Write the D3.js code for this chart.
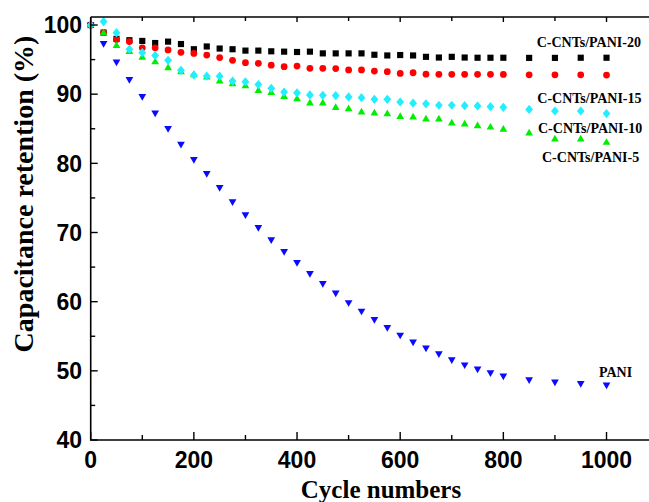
<!DOCTYPE html>
<html>
<head>
<meta charset="utf-8">
<script src="https://cdn.jsdelivr.net/npm/d3@7"></script>
<style>
  body { margin: 0; background: #fff; }
  svg { display: block; }
  .tick-label { font-family: "Liberation Sans", Arial, sans-serif; font-weight: bold; font-size: 23px; fill: #000; }
  .title { font-family: "Liberation Serif", "Times New Roman", serif; font-weight: bold; fill: #000; }
  .note { font-family: "Liberation Serif", "Times New Roman", serif; font-weight: bold; font-size: 14px; fill: #000; }
</style>
</head>
<body>
<svg width="649" height="502"></svg>
<script>
// cycle numbers where a point was recorded
const cycles = [0, 25, 50, 75, 100, 125, 150, 175, 200, 225, 250, 275, 300, 325, 350, 375, 400,
  425, 450, 475, 500, 525, 550, 575, 600, 625, 650, 675, 700, 725, 750, 775, 800, 850, 900, 950, 1000];

// capacitance retention (%) per sample
const pani20 = [100, 98.9, 98.0, 97.8, 97.7, 97.4, 97.6, 97.25, 96.5, 96.9, 96.6, 96.5, 96.3, 96.3, 96.2, 96.15, 96.1,
  96.15, 95.9, 95.9, 95.9, 95.9, 95.7, 95.6, 95.66, 95.6, 95.4, 95.3, 95.4, 95.3, 95.27, 95.27, 95.27, 95.25, 95.25, 95.27, 95.27];
const pani15red = [100, 98.9, 97.9, 97.6, 96.7, 96.7, 96.4, 96.05, 95.9, 95.66, 95.3, 94.9, 94.55, 94.46, 94.2, 93.98, 94.07,
  93.74, 93.74, 93.7, 93.5, 93.5, 93.35, 93.25, 93.0, 93.1, 92.9, 92.87, 92.87, 92.87, 92.87, 92.87, 92.85, 92.8, 92.8, 92.8, 92.77];
const pani15 = [100, 100.5, 98.9, 96.5, 96.0, 95.6, 94.9, 93.45, 92.77, 92.6, 92.6, 91.9, 91.8, 91.4, 90.85, 90.3, 90.2,
  89.9, 89.84, 89.8, 89.6, 89.5, 89.26, 89.26, 88.87, 88.7, 88.6, 88.4, 88.4, 88.34, 88.3, 88.2, 88.1, 87.8, 87.57, 87.57, 87.2];
const pani10 = [100, 98.8, 97.0, 96.15, 95.3, 94.65, 93.8, 93.2, 92.77, 92.44, 91.86, 91.47, 91.18, 90.5, 90.2, 89.64, 89.3,
  88.7, 88.7, 88.05, 87.86, 87.4, 87.24, 87.14, 86.75, 86.66, 86.37, 86.37, 85.8, 85.65, 85.4, 85.2, 84.9, 84.35, 83.5, 83.5, 83.0];
const pani = [100, 97.35, 94.7, 92.15, 89.7, 87.33, 85.07, 82.8, 80.6, 78.57, 76.55, 74.47, 72.6, 70.76, 69.0, 67.3, 65.7,
  64.1, 62.66, 61.3, 59.9, 58.67, 57.47, 56.3, 55.2, 54.2, 53.35, 52.5, 51.65, 50.9, 50.3, 49.75, 49.3, 48.76, 48.43, 48.2, 47.98];

const xTicks = [0, 200, 400, 600, 800, 1000];
const yTicks = [40, 50, 60, 70, 80, 90, 100];

const svg = d3.select("svg");
const width = +svg.attr("width");

// plot box: right side runs past the edge of the picture
const x = d3.scaleLinear().domain([0, 1100]).range([90.7, 658.1]);
const y = d3.scaleLinear().domain([40, 101.16]).range([440, 17]);

// series in drawing order (cyan ends up on top)
const series = [
  { values: pani20, color: "#000000", shape: "square" },
  { values: pani15red, color: "#ff0000", shape: "circle" },
  { values: pani, color: "#0a0aff", shape: "down" },
  { values: pani10, color: "#00ee00", shape: "up" },
  { values: pani15, color: "#22eeff", shape: "diamond" }
];

const shapes = {
  square: d3.symbol(d3.symbolSquare, 38)(),
  circle: d3.symbol(d3.symbolCircle, 36)(),
  up: d3.symbol(d3.symbolTriangle, 26)(),
  down: d3.symbol(d3.symbolTriangle, 26)(),
  diamond: "M0,-4.6L3.9,0L0,4.6L-3.9,0Z"
};

series.forEach(s => {
  svg.append("g").selectAll("path")
    .data(s.values)
    .enter().append("path")
      .attr("d", shapes[s.shape])
      .attr("fill", s.color)
      .attr("transform", (d, i) => `translate(${x(cycles[i])},${y(d)})` + (s.shape === "down" ? " rotate(180)" : ""));
});

// frame
const x0 = x(0), yb = y(40), yt = y.range()[1];
const frame = svg.append("g").attr("stroke", "#000").attr("stroke-width", 1.6).attr("fill", "none");
frame.append("path").attr("d", `M${x0},${yt}V${yb}H${width}`);
frame.append("path").attr("d", `M${x0},${yt}H${width}`);

// ticks, pointing inwards
const ticks = svg.append("g").attr("stroke", "#000").attr("stroke-width", 1.4);
d3.range(0, 1001, 100).forEach(v => {
  const major = v % 200 === 0;
  ticks.append("line").attr("x1", x(v)).attr("x2", x(v)).attr("y1", yb).attr("y2", yb - (major ? 8 : 5));
  ticks.append("line").attr("x1", x(v)).attr("x2", x(v)).attr("y1", yt).attr("y2", yt + (major ? 5 : 4));
});
d3.range(40, 101, 5).forEach(v => {
  const major = v % 10 === 0;
  ticks.append("line").attr("x1", x0).attr("x2", x0 + (major ? 7 : 4.5)).attr("y1", y(v)).attr("y2", y(v));
});

svg.append("g").selectAll("text")
  .data(xTicks)
  .enter().append("text")
    .attr("class", "tick-label")
    .attr("x", d => x(d))
    .attr("y", 468)
    .attr("text-anchor", "middle")
    .text(d => d);

svg.append("g").selectAll("text")
  .data(yTicks)
  .enter().append("text")
    .attr("class", "tick-label")
    .attr("x", 82)
    .attr("y", d => y(d))
    .attr("dy", "0.36em")
    .attr("text-anchor", "end")
    .text(d => d);

// axis titles
svg.append("text")
  .attr("class", "title")
  .attr("x", 381)
  .attr("y", 498)
  .attr("text-anchor", "middle")
  .style("font-size", "25px")
  .text("Cycle numbers");

svg.append("text")
  .attr("class", "title")
  .attr("transform", "translate(33,194) rotate(-90)")
  .attr("text-anchor", "middle")
  .style("font-size", "28px")
  .text("Capacitance retention (%)");

// curve labels
const notes = [
  ["C-CNTs/PANI-20", 536.7, 47],
  ["C-CNTs/PANI-15", 537.3, 103],
  ["C-CNTs/PANI-10", 538, 133],
  ["C-CNTs/PANI-5", 542, 162],
  ["PANI", 599, 377]
];
svg.append("g").selectAll("text")
  .data(notes)
  .enter().append("text")
    .attr("class", "note")
    .attr("x", d => d[1])
    .attr("y", d => d[2])
    .text(d => d[0]);
</script>
</body>
</html>
